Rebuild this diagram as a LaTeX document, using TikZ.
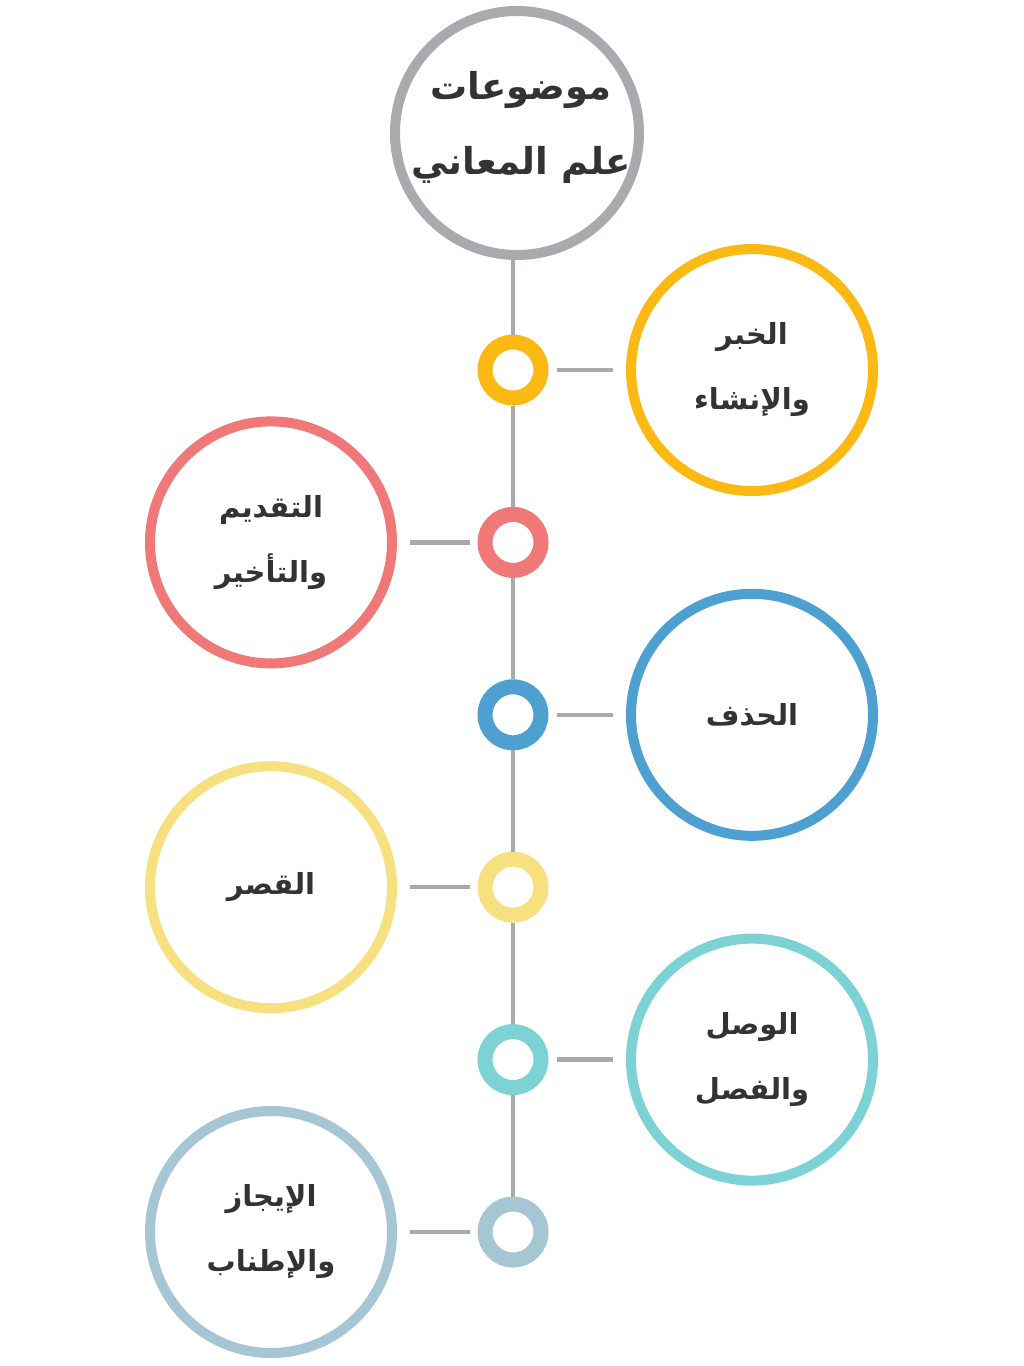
\documentclass[tikz,border=0pt]{standalone}
\usepackage{fontspec}
\usepackage{tikz}
\usetikzlibrary{positioning}
\TeXXeTstate=1
\newfontfamily\arabicfont[Script=Arabic]{DejaVu Sans}
\definecolor{spinegrey}{HTML}{A9AAAE}
\definecolor{textgrey}{HTML}{333333}
\definecolor{cyellow}{HTML}{FDB913}
\definecolor{cpink}{HTML}{F07878}
\definecolor{cblue}{HTML}{4DA0CF}
\definecolor{clight}{HTML}{F6E07F}
\definecolor{cteal}{HTML}{7CD2D5}
\definecolor{cslate}{HTML}{A7C6D4}

\begin{document}
\begin{tikzpicture}[x=1pt, y=-1pt, node distance=172.4pt,
  topic/.style = {draw=spinegrey, circle, line width=10pt, minimum size=244pt, inner sep=0pt, fill=white},
  title/.style = {text=textgrey, align=center, inner sep=0pt, font=\arabicfont\bfseries\fontsize{37}{75}\selectfont},
  ring/.style = {draw, circle, line width=15pt, minimum size=56pt, inner sep=0pt, fill=white},
  big/.style = {draw, circle, line width=10pt, minimum size=242pt, inner sep=0pt, fill=white, text=textgrey, align=center, font=\arabicfont\bfseries\fontsize{29}{65}\selectfont},
  spine/.style = {draw=spinegrey, line width=4pt},
  link/.style = {draw=spinegrey, line width=4.5pt, shorten <=8pt, shorten >=13pt}]
\useasboundingbox (0,0) rectangle (1024,1366);
\node[topic] (T) at (517,133) {};
\node[title, xshift=4pt, yshift=6pt] (Ttext) at (T.center) {\beginR موضوعات\endR\\\beginR علم المعاني\endR};
\node[ring, draw=cyellow] (k1) at (513,370) {};
\node[ring, draw=cpink] (k2) [below of=k1] {};
\node[ring, draw=cblue] (k3) [below of=k2] {};
\node[ring, draw=clight] (k4) [below of=k3] {};
\node[ring, draw=cteal] (k5) [below of=k4] {};
\node[ring, draw=cslate] (k6) [below of=k5] {};
\node[big, draw=cyellow] (b1) [right of=k1, node distance=239pt] {\beginR الخبر\endR\\\beginR والإنشاء\endR};
\node[big, draw=cpink] (b2) [left of=k2, node distance=242pt] {\beginR التقديم\endR\\\beginR والتأخير\endR};
\node[big, draw=cblue] (b3) [right of=k3, node distance=239pt] {\beginR الحذف\endR};
\node[big, draw=clight] (b4) [left of=k4, node distance=242pt] {\beginR القصر\endR};
\node[big, draw=cteal] (b5) [right of=k5, node distance=239pt] {\beginR الوصل\endR\\\beginR والفصل\endR};
\node[big, draw=cslate] (b6) [left of=k6, node distance=242pt] {\beginR الإيجاز\endR\\\beginR والإطناب\endR};
\draw[spine] (k1.north |- T.south) -- (k1.north);
\draw[spine] (k1.south) -- (k2.north);
\draw[spine] (k2.south) -- (k3.north);
\draw[spine] (k3.south) -- (k4.north);
\draw[spine] (k4.south) -- (k5.north);
\draw[spine] (k5.south) -- (k6.north);
\draw[link] (k1.east) -- (b1.west);
\draw[link] (k2.west) -- (b2.east);
\draw[link] (k3.east) -- (b3.west);
\draw[link] (k4.west) -- (b4.east);
\draw[link] (k5.east) -- (b5.west);
\draw[link] (k6.west) -- (b6.east);
\end{tikzpicture}
\end{document}
